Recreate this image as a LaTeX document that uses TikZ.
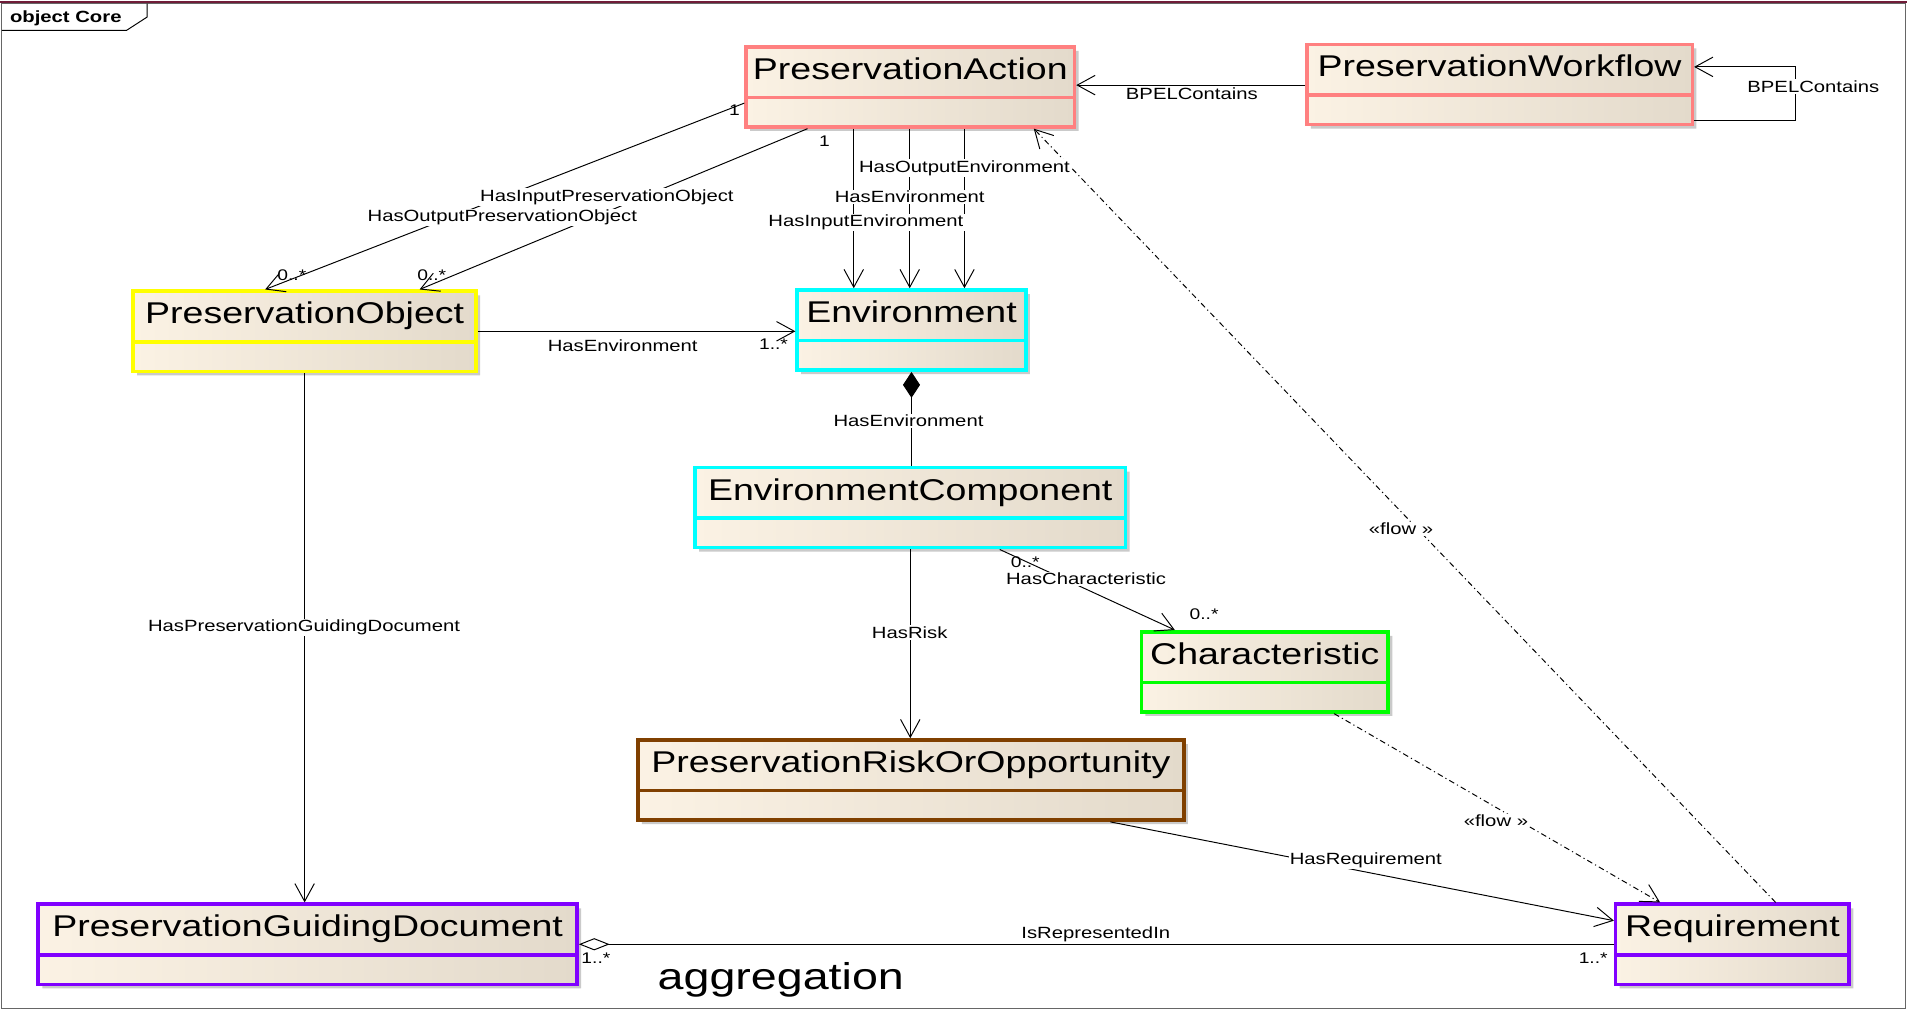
\documentclass[tikz,border=0pt]{standalone}
\usepackage{fontspec}
\setmainfont{Liberation Sans}[FakeStretch=1.25]
\usetikzlibrary{arrows.meta,calc,shapes.multipart,shadows}

\definecolor{boxleft}{RGB}{251,242,228}
\definecolor{boxright}{RGB}{227,218,203}
\definecolor{actionred}{RGB}{255,128,128}
\definecolor{objyellow}{RGB}{255,255,0}
\definecolor{envcyan}{RGB}{0,255,255}
\definecolor{chargreen}{RGB}{0,255,0}
\definecolor{riskbrown}{RGB}{128,64,0}
\definecolor{reqpurple}{RGB}{128,0,255}
\definecolor{framered}{RGB}{112,28,56}

\begin{document}
\begin{tikzpicture}[x=0.75pt,y=0.75pt,yscale=-1,xscale=1,
  umlclass/.style={rectangle split, rectangle split parts=2, anchor=north west,
    draw=#1, line width=2.2pt, left color=boxleft, right color=boxright,
    inner xsep=2pt, inner ysep=3.5pt,
    rectangle split empty part height=9pt, rectangle split empty part depth=0pt,
    font=\fontsize{18.5}{22}\selectfont,
    drop shadow={shadow xshift=2.5pt, shadow yshift=-2.5pt, fill=black!35, opacity=0.6}},
  boxw/.style={minimum width=#1*0.75pt},
  assoc/.style={line width=0.6pt, -{Straight Barb[length=11pt,width=12pt]}},
  flowline/.style={assoc, dash pattern=on 3.5pt off 2pt on 0.7pt off 2pt},
  lbl/.style={font=\fontsize{10}{12}\selectfont, fill=white, inner sep=0.75pt},
  mult/.style={font=\fontsize{9.5}{11}\selectfont, inner sep=0.75pt}]
\useasboundingbox (0,0) rectangle (1568,830);

%Frame
\draw [gray!80!black, line width=0.6pt] (1.5,3) rectangle (1566.5,829);
\draw [framered, line width=1.5pt] (0,1.5) -- (1568,1.5);
\draw [line width=0.6pt] (1.5,25) -- (104,25) -- (121,14) -- (121,3);
\node [font=\fontsize{10}{12}\selectfont\bfseries, anchor=west, inner sep=0pt] (title) at (8,15) {object Core};

%Classes
\node [umlclass=actionred, boxw=270] (pa) at (612,37) {\strut PreservationAction\nodepart{two}};
\node [umlclass=actionred, boxw=317] (pw) at (1073,35) {\strut PreservationWorkflow\nodepart{two}};
\node [umlclass=objyellow, boxw=282] (po) at (108,238) {\strut PreservationObject\nodepart{two}};
\node [umlclass=envcyan, boxw=188] (env) at (654,237) {\strut Environment\nodepart{two}};
\node [umlclass=envcyan, boxw=354] (ec) at (570,383) {\strut EnvironmentComponent\nodepart{two}};
\node [umlclass=chargreen, boxw=203] (ch) at (937,518) {\strut Characteristic\nodepart{two}};
\node [umlclass=riskbrown, boxw=449] (pro) at (523,607) {\strut PreservationRiskOrOpportunity\nodepart{two}};
\node [umlclass=reqpurple, boxw=443] (pgd) at (30,742) {\strut PreservationGuidingDocument\nodepart{two}};
\node [umlclass=reqpurple, boxw=192] (req) at (1327,742) {\strut Requirement\nodepart{two}};

%Connector ends
\coordinate (pwl) at ($(pw.north west)+(0,35)$);
\coordinate (pwr1) at ($(pw.south east)+(0,-5)$);
\coordinate (pwr2) at ($(pw.north east)+(0,20)$);
\coordinate (pa1) at ($(pa.south west)+(0,-21)$);
\coordinate (pa2) at ($(pa.south west)+(52,0)$);
\coordinate (pa3) at ($(pa.south west)+(90,0)$);
\coordinate (pa4) at ($(pa.south west)+(136,0)$);
\coordinate (pa5) at ($(pa.south west)+(181,0)$);
\coordinate (pa6) at ($(pa.south west)+(238,0)$);
\coordinate (po1) at ($(po.north west)+(110,0)$);
\coordinate (po2) at ($(po.north west)+(237,0)$);
\coordinate (ec1) at ($(ec.south west)+(252,0)$);
\coordinate (ch1) at ($(ch.north west)+(29,0)$);
\coordinate (ch2) at ($(ch.south west)+(160,0)$);
\coordinate (pro1) at ($(pro.south west)+(390,0)$);
\coordinate (req1) at ($(req.north west)+(0,15)$);
\coordinate (req2) at ($(req.north west)+(38,0)$);
\coordinate (req3) at ($(req.north west)+(133,0)$);

%Straight Lines
\draw [assoc] (pwl) -- (pwl -| pa.east);
\draw [assoc] (pwr1) -- ++(83,0) |- (pwr2);
\draw [assoc] (pa1) -- (po1);
\draw [assoc] (pa2) -- (po2);
\draw [assoc] (pa3) -- (pa3 |- env.north);
\draw [assoc] (pa4) -- (pa4 |- env.north);
\draw [assoc] (pa5) -- (pa5 |- env.north);
\draw [assoc] (po.east) -- (po.east -| env.west);
\draw [line width=0.6pt, {Diamond[length=16pt,width=10.5pt]}-] (env.south) -- (env.south |- ec.north);
\draw [assoc] (ec1) -- (ch1);
\draw [assoc] (ec.south) -- (ec.south |- pro.north);
\draw [assoc] (pro1) -- (req1);
\draw [assoc] (po.south) -- (po.south |- pgd.north);
\draw [line width=0.6pt, {Diamond[fill=white,length=19pt,width=7.5pt]}-] (pgd.east) -- (pgd.east -| req.west);
\draw [flowline] (ch2) -- (req2);
\draw [flowline] (req3) -- (pa6);

% Text Node
\node [lbl] (lbpel1) at (980,77) {BPELContains};
\node [lbl] (lbpel2) at (1491,71) {BPELContains};
\node [lbl] (linpo) at (499,162) {HasInputPreservationObject};
\node [lbl] (loutpo) at (413,179) {HasOutputPreservationObject};
\node [lbl] (loutenv) at (793,138) {HasOutputEnvironment};
\node [lbl] (lenv1) at (748,162) {HasEnvironment};
\node [lbl] (linenv) at (712,183) {HasInputEnvironment};
\node [lbl] (lenv2) at (512,284) {HasEnvironment};
\node [lbl] (lenv3) at (747,346) {HasEnvironment};
\node [lbl] (lchar) at (893,476) {HasCharacteristic};
\node [lbl] (lrisk) at (748,520) {HasRisk};
\node [lbl] (lpgd) at (250,516) {HasPreservationGuidingDocument};
\node [lbl] (lreq) at (1123,707) {HasRequirement};
\node [lbl, fill=none] (lrep) at (901,768) {IsRepresentedIn};
\node [lbl] (lflow1) at (1152,435) {«flow »};
\node [lbl] (lflow2) at (1230,675) {«flow »};
% Text Node
\node [mult] (m1) at (604,91) {1};
\node [mult] (m2) at (678,116) {1};
\node [mult] (m3) at (240,226) {0..*};
\node [mult] (m4) at (355,226) {0..*};
\node [mult] (m5) at (636,283) {1..*};
\node [mult] (m6) at (843,462) {0..*};
\node [mult] (m7) at (990,505) {0..*};
\node [mult] (m8) at (490,788) {1..*};
\node [mult] (m9) at (1310,788) {1..*};
% Text Node
\node [font=\fontsize{23}{27}\selectfont, inner sep=0pt] (aggr) at (642,806) {aggregation};

\end{tikzpicture}
\end{document}
